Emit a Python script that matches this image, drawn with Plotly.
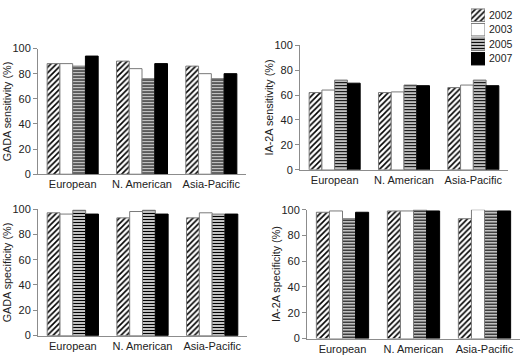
import plotly.graph_objects as go

regions = ["European", "N. American", "Asia-Pacific"]
years = ["2002", "2003", "2005", "2007"]

# values per year, in region order
gada_sensitivity = {"2002": [88, 90, 86], "2003": [88, 84, 80],
                    "2005": [86, 76, 76], "2007": [94, 88, 80]}
ia2a_sensitivity = {"2002": [62, 62, 66], "2003": [64, 62.5, 68],
                    "2005": [72, 68, 72], "2007": [69.5, 67.5, 67.5]}
gada_specificity = {"2002": [97, 93, 93], "2003": [96, 98, 97],
                    "2005": [99, 99, 96], "2007": [96, 96, 96]}
ia2a_specificity = {"2002": [98, 99, 93], "2003": [99, 99, 100],
                    "2005": [93, 100, 99], "2007": [98, 99, 99]}

y_titles = ["GADA sensitivity (%)", "IA-2A sensitivity (%)",
            "GADA specificity (%)", "IA-2A specificity (%)"]
y_ticks = [0, 20, 40, 60, 80, 100]

W, H = 521, 360
FONT = "Liberation Sans, Arial, sans-serif"
AXIS_GRAY = "#8c8c8c"
EDGE_GRAY = "#7a7a7a"

styles = {
    "2002": dict(color="white", line=dict(color=EDGE_GRAY, width=1),
                 pattern=dict(shape="/", size=4, solidity=0.4, fgcolor="black",
                              bgcolor="white", fillmode="replace")),
    "2003": dict(color="white", line=dict(color=EDGE_GRAY, width=1)),
    "2005": dict(color="white", line=dict(color=EDGE_GRAY, width=1),
                 pattern=dict(shape="-", size=3, solidity=0.5, fgcolor="black",
                              bgcolor="white", fillmode="replace")),
    "2007": dict(color="black", line=dict(color="black", width=1)),
}

# panel pixel boxes: (x_left, x_right, y_top(100), y_bottom(0))
panels = [
    (38, 246, 44, 174),
    (300, 508, 40.5, 169.5),
    (38, 247, 210, 341),
    (307, 520, 210.7, 344),
]
datasets = [gada_sensitivity, ia2a_sensitivity, gada_specificity, ia2a_specificity]

fig = go.Figure()
layout = dict(width=W, height=H, margin=dict(l=0, r=0, t=0, b=0),
              plot_bgcolor="white", paper_bgcolor="white",
              barmode="group", bargap=0.264, bargroupgap=0,
              font=dict(family=FONT, size=11, color="#222"),
              showlegend=False)
annotations = []

for i, (data, box) in enumerate(zip(datasets, panels)):
    n = i + 1
    xa = "x" if n == 1 else f"x{n}"
    ya = "y" if n == 1 else f"y{n}"
    for yr in years:
        fig.add_trace(go.Bar(x=regions, y=data[yr], name=yr, marker=styles[yr],
                             xaxis=xa, yaxis=ya, offsetgroup=yr))
    xl, xr, yt, yb = box
    xkey = "xaxis" if n == 1 else f"xaxis{n}"
    ykey = "yaxis" if n == 1 else f"yaxis{n}"
    layout[xkey] = dict(domain=[xl / W, xr / W], anchor=ya, showline=True,
                        linecolor=AXIS_GRAY, linewidth=1, showgrid=False,
                        ticks="", zeroline=False,
                        tickfont=dict(size=11, color="#222"))
    layout[ykey] = dict(domain=[(H - yb) / H, (H - yt) / H], anchor=xa,
                        range=[0, 100], tickvals=y_ticks, showline=True,
                        linecolor=AXIS_GRAY, linewidth=1, ticks="outside",
                        ticklen=4, tickcolor=AXIS_GRAY, showgrid=False,
                        zeroline=False, tickfont=dict(size=11, color="#222"))
    annotations.append(dict(text=y_titles[i], textangle=-90, xref="paper",
                            yref="paper", x=(xl - 31) / W, y=(H - (yt + yb) / 2) / H,
                            xanchor="center", yanchor="middle", showarrow=False,
                            font=dict(size=10.8, color="#222")))

# custom legend built as a tiny horizontal bar panel
for yr in years:
    fig.add_trace(go.Bar(x=[1], y=[yr], orientation="h", marker=styles[yr],
                         xaxis="x5", yaxis="y5", width=0.86))
layout["xaxis5"] = dict(domain=[471 / W, 485 / W], anchor="y5", range=[0, 1],
                        visible=False, fixedrange=True)
layout["yaxis5"] = dict(domain=[(H - 62) / H, (H - 2) / H], anchor="x5",
                        side="right", categoryorder="array", categoryarray=years,
                        autorange="reversed", showline=False, showgrid=False,
                        zeroline=False, ticks="", ticklabelstandoff=3,
                        tickfont=dict(size=10.5, color="#222"))
layout["annotations"] = annotations
fig.update_layout(**layout)

fig.write_html("out.html", config={"displayModeBar": False},
               post_script="document.body.style.margin='0';document.body.style.overflow='hidden';")
